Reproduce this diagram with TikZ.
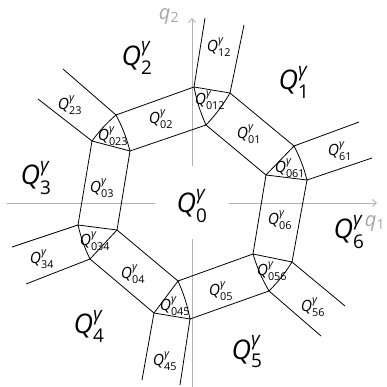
\documentclass[tikz,border=0pt]{standalone}
\usepackage{amsmath}
\usepackage{fontspec}
\setmainfont{Open Sans}
\usepackage{tikz}
\usetikzlibrary{arrows.meta}

\newcommand{\Qlab}[1]{\textit{Q}$^{\text{\itshape γ}}_{\text{#1}}$}

\begin{document}
\begin{tikzpicture}[
  x=1pt, y=-1pt,
  big/.style={font=\fontsize{27}{30}\selectfont, inner sep=0pt},
  small/.style={font=\fontsize{15.5}{17}\selectfont, inner sep=0pt},
  axlab/.style={font=\fontsize{20}{22}\selectfont\itshape, text=gray!70, inner sep=0pt},
  edge/.style={line width=0.8pt, black},
  axis/.style={line width=0.9pt, gray!60}
]
  \useasboundingbox (0,0) rectangle (386,387);

  % axes
  \coordinate (h0) at (7,203);   \coordinate (h1) at (155,203);
  \coordinate (h2) at (229,203); \coordinate (h3) at (377,203);
  \coordinate (v0) at (192,387); \coordinate (v1) at (192,239);
  \coordinate (v2) at (192,166); \coordinate (v3) at (192,18);
  \draw[axis] (h0) -- (h1);
  \draw[axis, -{Straight Barb[length=4pt,width=7pt]}] (h2) -- (h3);
  \draw[axis] (v0) -- (v1);
  \draw[axis, -{Straight Barb[length=4pt,width=7pt]}] (v2) -- (v3);
  \node[axlab] (q1) at (375,223) {q\textsubscript{\upshape 1}};
  \node[axlab] (q2) at (169,16) {q\textsubscript{\upshape 2}};

  % triangle corners
  \coordinate (a1) at (116,115); \coordinate (a2) at (92,141);  \coordinate (a3) at (130,151);
  \coordinate (b1) at (194,87);  \coordinate (b2) at (230,93);  \coordinate (b3) at (206,125);
  \coordinate (c1) at (294,146); \coordinate (c2) at (266,175); \coordinate (c3) at (307,180);
  \coordinate (d1) at (253,254); \coordinate (d2) at (292,262); \coordinate (d3) at (269,291);
  \coordinate (e1) at (178,281); \coordinate (e2) at (154,313); \coordinate (e3) at (190,319);
  \coordinate (f1) at (78,225);  \coordinate (f2) at (117,230); \coordinate (f3) at (90,259);

  % free ends of the outer rays
  \coordinate (a1o) at (63,69);   \coordinate (a2o) at (38,99);
  \coordinate (b1o) at (205,18);  \coordinate (b2o) at (244,25);
  \coordinate (c1o) at (359,122); \coordinate (c3o) at (372,158);
  \coordinate (d2o) at (345,306); \coordinate (d3o) at (321,336);
  \coordinate (e2o) at (142,380); \coordinate (e3o) at (180,385);
  \coordinate (f1o) at (12,247);  \coordinate (f3o) at (26,284);

  % rays
  \draw[edge] (a1) -- (a1o);  \draw[edge] (a2) -- (a2o);
  \draw[edge] (b1) -- (b1o);  \draw[edge] (b2) -- (b2o);
  \draw[edge] (c1) -- (c1o);  \draw[edge] (c3) -- (c3o);
  \draw[edge] (d2) -- (d2o);  \draw[edge] (d3) -- (d3o);
  \draw[edge] (e2) -- (e2o);  \draw[edge] (e3) -- (e3o);
  \draw[edge] (f1) -- (f1o);  \draw[edge] (f3) -- (f3o);

  % bands
  \draw[edge] (a1) -- (b1);  \draw[edge] (a3) -- (b3);
  \draw[edge] (b2) -- (c1);  \draw[edge] (b3) -- (c2);
  \draw[edge] (c2) -- (d1);  \draw[edge] (c3) -- (d2);
  \draw[edge] (d1) -- (e1);  \draw[edge] (d3) -- (e3);
  \draw[edge] (e1) -- (f2);  \draw[edge] (e2) -- (f3);
  \draw[edge] (f1) -- (a2);  \draw[edge] (f2) -- (a3);

  % triangles
  \draw[edge] (a1) to[bend right=6] (a2);  \draw[edge] (a1) to[bend left=6] (a3);  \draw[edge] (a2) -- (a3);
  \draw[edge] (b1) -- (b2);  \draw[edge] (b3) to[bend left=6] (b1);  \draw[edge] (b3) to[bend right=6] (b2);
  \draw[edge] (c1) -- (c2);  \draw[edge] (c2) -- (c3);  \draw[edge] (c1) to[bend left=6] (c3);
  \draw[edge] (d1) -- (d2);  \draw[edge] (d3) to[bend left=6] (d1);  \draw[edge] (d3) to[bend right=6] (d2);
  \draw[edge] (e1) -- (e2);  \draw[edge] (e2) -- (e3);  \draw[edge] (e1) to[bend left=6] (e3);
  \draw[edge] (f1) -- (f2);  \draw[edge] (f2) -- (f3);  \draw[edge] (f1) to[bend right=6] (f3);

  % region labels
  \node[big] (L0) at (192,206) {\Qlab{0}};
  \node[big] (L1) at (294,82)  {\Qlab{1}};
  \node[big] (L2) at (137,58)  {\Qlab{2}};
  \node[big] (L3) at (36,178)  {\Qlab{3}};
  \node[big] (L4) at (89,326)  {\Qlab{4}};
  \node[big] (L5) at (247,352) {\Qlab{5}};
  \node[big] (L6) at (349,232) {\Qlab{6}};

  \node[small] (L12) at (219,47)  {\Qlab{12}};
  \node[small] (L23) at (70,105)  {\Qlab{23}};
  \node[small] (L34) at (42,259)  {\Qlab{34}};
  \node[small] (L45) at (165,361) {\Qlab{45}};
  \node[small] (L56) at (313,307) {\Qlab{56}};
  \node[small] (L61) at (340,151) {\Qlab{61}};

  \node[small] (L01) at (249,134) {\Qlab{01}};
  \node[small] (L02) at (161,119) {\Qlab{02}};
  \node[small] (L03) at (102,188) {\Qlab{03}};
  \node[small] (L04) at (133,274) {\Qlab{04}};
  \node[small] (L05) at (221,291) {\Qlab{05}};
  \node[small] (L06) at (280,220) {\Qlab{06}};

  \node[small] (L012) at (210,100) {\Qlab{012}};
  \node[small] (L023) at (113,136) {\Qlab{023}};
  \node[small] (L034) at (95,241)  {\Qlab{034}};
  \node[small] (L045) at (175,306) {\Qlab{045}};
  \node[small] (L056) at (272,271) {\Qlab{056}};
  \node[small] (L061) at (290,168) {\Qlab{061}};
\end{tikzpicture}
\end{document}
